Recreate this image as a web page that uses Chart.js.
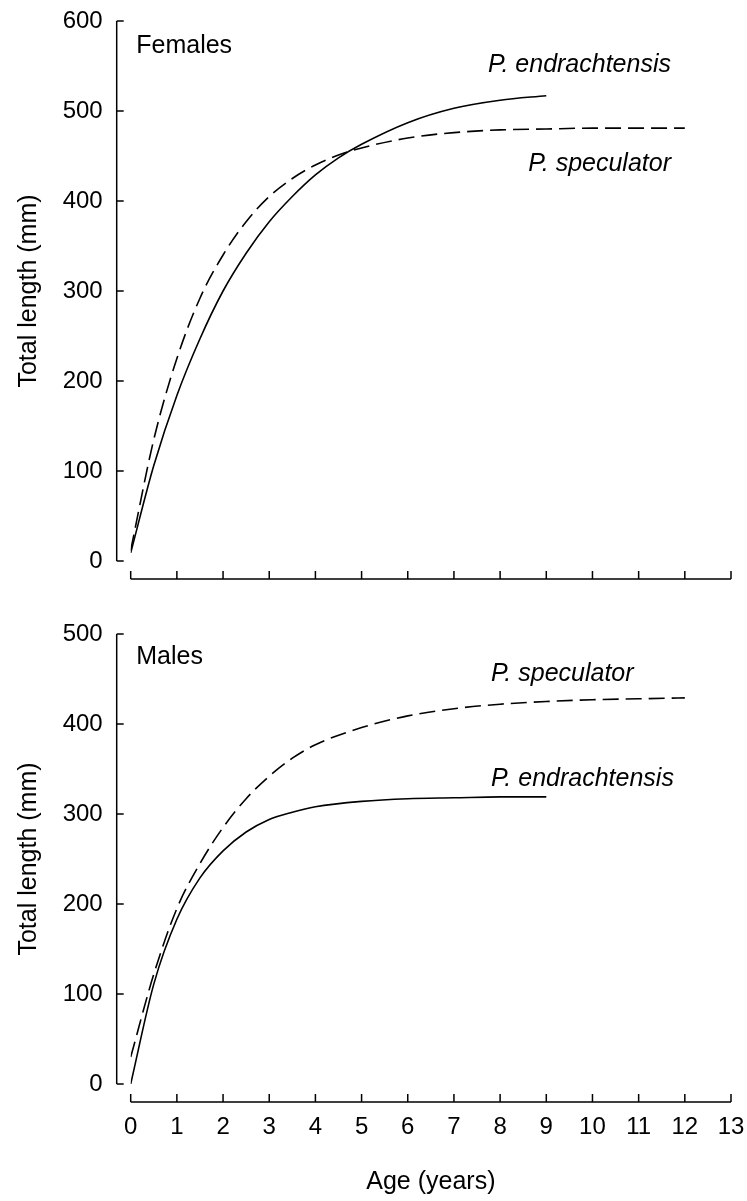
<!DOCTYPE html>
<html>
<head>
<meta charset="utf-8">
<title>Growth curves</title>
<script src="https://cdn.jsdelivr.net/npm/chart.js@4.4.1/dist/chart.umd.min.js"></script>
<style>
  body { margin: 0; background: #fff; }
  #wrap { position: relative; width: 747px; height: 1201px; }
  canvas { position: absolute; left: 0; }
  #females { top: 0; }
  #males { top: 600px; }
</style>
</head>
<body>
<div id="wrap">
  <canvas id="females" width="747" height="600"></canvas>
  <canvas id="males" width="747" height="601"></canvas>
</div>
<script>
// total length (mm) at age (years), von Bertalanffy curves
const femEndAges = [0, 0.5, 1, 1.5, 2, 2.5, 3, 3.5, 4, 4.5, 5, 6, 7, 8, 9];
const femEndLen  = [9, 106, 184, 247, 300, 342, 377, 405, 429, 448, 463, 487, 503, 512, 517];
const femSpecAges = [0, 0.5, 1, 1.5, 2, 2.5, 3, 3.5, 4, 4.5, 5, 6, 7, 8, 9, 10, 11, 12];
const femSpecLen  = [12, 135, 225, 292, 340, 377, 405, 425, 440, 451, 459, 470, 476, 479, 480, 481, 481, 481];

const maleEndAges = [0, 0.5, 1, 1.5, 2, 2.5, 3, 3.5, 4, 5, 6, 7, 8, 9];
const maleEndLen  = [0, 111, 183, 229, 259, 280, 294, 302, 308, 314, 317, 318, 319, 319];
const maleSpecAges = [0, 0.5, 1, 1.5, 2, 2.5, 3, 3.5, 4, 5, 6, 7, 8, 9, 10, 11, 12];
const maleSpecLen  = [30, 122, 195, 245, 285, 317, 342, 362, 377, 396, 409, 417, 422, 425, 427, 428, 429];

const ageTicks = [0, 1, 2, 3, 4, 5, 6, 7, 8, 9, 10, 11, 12, 13];

const FONT = "'Liberation Sans', Arial, Helvetica, sans-serif";
const INK = '#000';

function pts(xs, ys) {
  return xs.map((x, i) => ({ x: x, y: ys[i] }));
}

function curve(label, xs, ys, dashed) {
  return {
    label: label,
    data: pts(xs, ys),
    borderColor: INK,
    borderWidth: 1.6,
    borderDash: dashed ? [16, 7] : [],
    pointRadius: 0,
    fill: false,
    cubicInterpolationMode: 'monotone'
  };
}

// axes drawn detached from the plot area, ticks pointing inward
const detachedAxes = {
  id: 'detachedAxes',
  afterDraw(chart) {
    const { ctx, chartArea, scales: { x, y } } = chart;
    const yx = chartArea.left - 14;
    const xy = chartArea.bottom + 18;
    ctx.save();
    ctx.strokeStyle = INK;
    ctx.lineWidth = 1.5;
    ctx.beginPath();
    ctx.moveTo(yx, y.getPixelForValue(y.max));
    ctx.lineTo(yx, y.getPixelForValue(y.min));
    y.ticks.forEach(t => {
      const py = y.getPixelForValue(t.value);
      ctx.moveTo(yx, py);
      ctx.lineTo(yx + 7, py);
    });
    ctx.moveTo(x.getPixelForValue(x.min), xy);
    ctx.lineTo(x.getPixelForValue(x.max), xy);
    ageTicks.forEach(v => {
      const px = x.getPixelForValue(v);
      ctx.moveTo(px, xy);
      ctx.lineTo(px, xy - 8);
    });
    ctx.stroke();
    ctx.restore();
  }
};

// panel heading and species names, placed in data units
const plotText = {
  id: 'plotText',
  afterDraw(chart, args, opts) {
    const { ctx, scales: { x, y } } = chart;
    ctx.save();
    ctx.fillStyle = INK;
    ctx.textBaseline = 'middle';
    (opts.items || []).forEach(it => {
      ctx.font = (it.italic ? 'italic ' : '') + it.size + 'px ' + FONT;
      ctx.textAlign = it.align || 'left';
      ctx.fillText(it.text, x.getPixelForValue(it.x), y.getPixelForValue(it.y));
    });
    ctx.restore();
  }
};

function makeChart(id, datasets, yMax, showAge, padTop, texts) {
  const canvas = document.getElementById(id);
  const xHeight = showAge ? 117 : 39;
  return new Chart(canvas, {
    type: 'line',
    data: { datasets: datasets },
    plugins: [detachedAxes, plotText],
    options: {
      responsive: false,
      animation: false,
      layout: { padding: { left: 0, right: 16, top: padTop, bottom: 0 } },
      plugins: {
        legend: { display: false },
        tooltip: { enabled: false },
        plotText: { items: texts }
      },
      scales: {
        x: {
          type: 'linear',
          min: 0,
          max: 13,
          grid: { display: false, drawTicks: false },
          border: { display: false },
          afterFit: s => { s.height = xHeight; s.paddingLeft = 0; s.paddingRight = 0; },
          afterBuildTicks: s => { s.ticks = ageTicks.map(v => ({ value: v })); },
          ticks: {
            display: showAge,
            padding: 29,
            color: INK,
            font: { family: FONT, size: 24 }
          },
          title: {
            display: showAge,
            text: 'Age (years)',
            color: INK,
            font: { family: FONT, size: 25 },
            padding: { top: 4, bottom: 4 }
          }
        },
        y: {
          min: 0,
          max: yMax,
          grid: { display: false, drawTicks: false },
          border: { display: false },
          afterFit: s => { s.width = 130.7; s.paddingTop = 0; s.paddingBottom = 0; },
          ticks: {
            stepSize: 100,
            padding: 28,
            color: INK,
            font: { family: FONT, size: 24 }
          },
          title: {
            display: true,
            text: 'Total length (mm)',
            color: INK,
            font: { family: FONT, size: 25 },
            padding: { top: 14, bottom: 14 }
          }
        }
      }
    }
  });
}

makeChart('females', [
  curve('P. endrachtensis', femEndAges, femEndLen, false),
  curve('P. speculator', femSpecAges, femSpecLen, true)
], 600, false, 21, [
  { text: 'Females', x: 0.12, y: 572, size: 25 },
  { text: 'P. endrachtensis', x: 11.7, y: 551, size: 25, italic: true, align: 'right' },
  { text: 'P. speculator', x: 11.7, y: 441, size: 25, italic: true, align: 'right' }
]);

makeChart('males', [
  curve('P. endrachtensis', maleEndAges, maleEndLen, false),
  curve('P. speculator', maleSpecAges, maleSpecLen, true)
], 500, true, 34, [
  { text: 'Males', x: 0.12, y: 474, size: 25 },
  { text: 'P. speculator', x: 7.8, y: 456, size: 25, italic: true },
  { text: 'P. endrachtensis', x: 7.8, y: 339, size: 25, italic: true }
]);
</script>
</body>
</html>
